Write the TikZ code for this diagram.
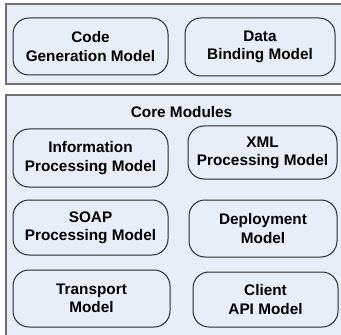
\documentclass[tikz,border=0pt]{standalone}
\usepackage{fontspec}
\setmainfont{Liberation Sans}
\definecolor{panelfill}{RGB}{232,238,247}
\definecolor{panelline}{RGB}{112,112,112}
\definecolor{modline}{RGB}{40,40,40}
\begin{document}
\begin{tikzpicture}[x=0.75pt,y=-0.75pt,
  panel/.style={draw=panelline,line width=1.5pt,fill=panelfill},
  mod/.style={draw=modline,line width=0.75pt,rounded corners=12pt,fill=panelfill,
    align=center,inner sep=0pt,font=\fontsize{11.5pt}{13.7pt}\selectfont\bfseries},
  title/.style={inner sep=0pt,font=\fontsize{11.5pt}{13.7pt}\selectfont\bfseries}]
\clip (0,0) rectangle (341,334);
\fill[white] (0,0) rectangle (341,334);
\draw[panel] (6,4) rectangle (348,84);
\draw[panel] (6,95) rectangle (348,342);
\node[mod,minimum width=116.25pt,minimum height=42.75pt] (cg) at (90.5,46.5) {Code\\Generation Model};
\node[mod,minimum width=112.5pt,minimum height=43.5pt] (db) at (260,47) {Data\\Binding Model};
\node[title] (core) at (181.5,112.5) {Core Modules};
\node[mod,minimum width=116.25pt,minimum height=43.5pt] (ip) at (90.5,158) {Information\\Processing Model};
\node[mod,minimum width=111.75pt,minimum height=39.75pt] (xml) at (262.5,152.5) {XML\\Processing Model};
\node[mod,minimum width=116.25pt,minimum height=41.25pt] (soap) at (90.5,227.5) {SOAP\\Processing Model};
\node[mod,minimum width=111pt,minimum height=42.75pt] (dep) at (263,228.5) {Deployment\\Model};
\node[mod,minimum width=117.75pt,minimum height=42.75pt] (tr) at (91.5,298.5) {Transport\\Model};
\node[mod,minimum width=108.75pt,minimum height=41.25pt] (cl) at (265.5,299.5) {Client\\API Model};
\end{tikzpicture}
\end{document}
